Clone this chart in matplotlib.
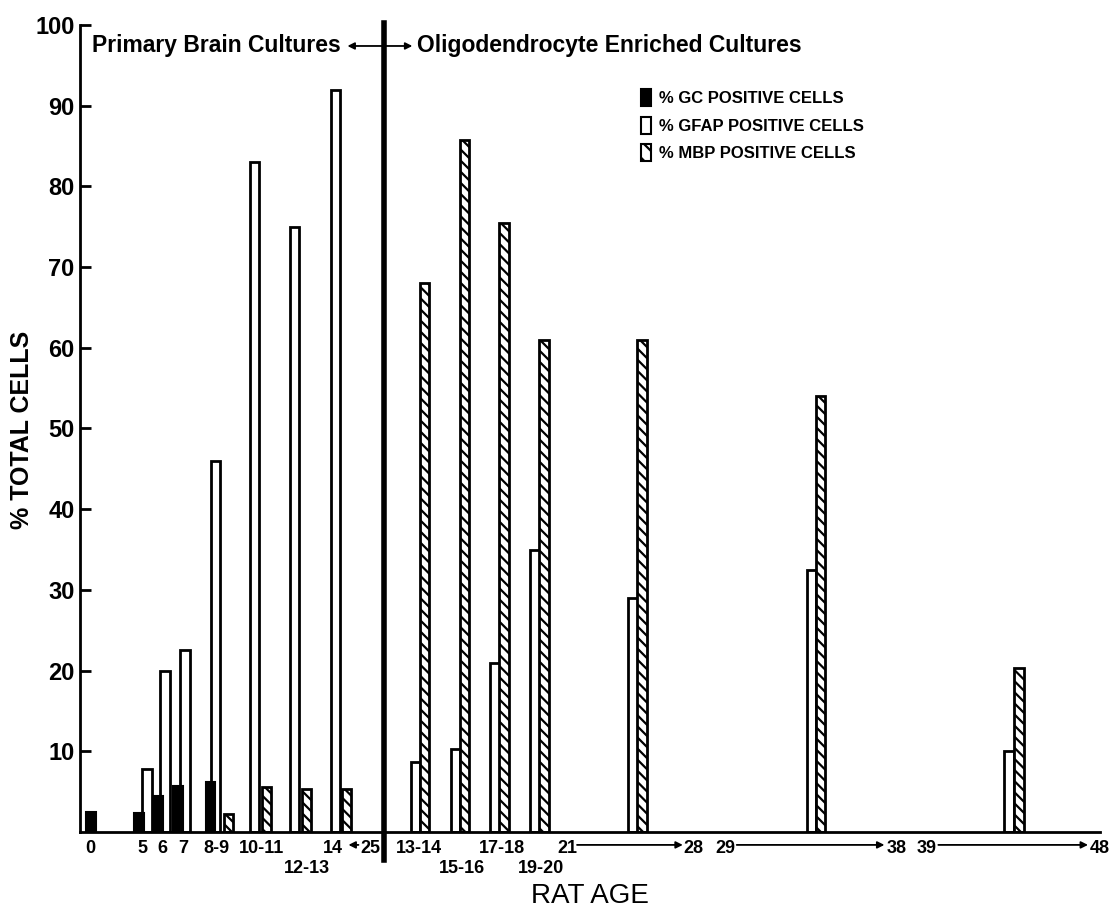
import numpy as np
import matplotlib.pyplot as plt
from matplotlib.patches import Patch

plt.rcParams['font.family'] = ['Liberation Sans', 'DejaVu Sans']
plt.rcParams['hatch.linewidth'] = 1.6

# x axis is not linear in age: groups sit at hand-placed spots along the axis
# (x units run 80..1100 across the axis)
gc_x = [91, 139, 158, 178, 211]
gc_vals = [2.5, 2.3, 4.5, 5.7, 6.2]

gfap_x = [147, 165, 185, 216, 255, 295, 336, 416, 456, 496, 536, 634, 813, 1011]
gfap_vals = [7.8, 20.0, 22.5, 46.0, 83.0, 75.0, 92.0, 8.7, 10.3, 21.0, 35.0, 29.0, 32.5, 10.0]

mbp_x = [229, 267, 307, 347, 425, 465, 505, 545, 643, 822, 1021]
mbp_vals = [2.2, 5.6, 5.3, 5.3, 68.0, 85.7, 75.5, 61.0, 61.0, 54.0, 20.3]

# tick labels, first and second row
row1_x = [90, 143, 163, 183, 217, 262, 333, 371, 420, 503, 568, 695, 727, 898, 928, 1102]
row1_labels = ['0', '5', '6', '7', '8-9', '10-11', '14', '25', '13-14', '17-18',
               '21', '28', '29', '38', '39', '48']
row2_x = [307, 463, 542]
row2_labels = ['12-13', '15-16', '19-20']

# arrows under the axis (from, to)
arrows = [(359, 349), (578, 684), (738, 886), (940, 1090)]

fig = plt.figure(figsize=(11.11, 9.19), dpi=100)
ax = fig.add_axes([80/1111, 1-832/919, 1020/1111, 807/919])

bw = 9.5
ax.bar(gc_x, gc_vals, width=bw, color='black', edgecolor='black', linewidth=1.5, zorder=3)
ax.bar(gfap_x, gfap_vals, width=bw, color='white', edgecolor='black', linewidth=2, zorder=2)
ax.bar(mbp_x, mbp_vals, width=bw, color='white', edgecolor='black', linewidth=2,
       hatch='\\\\\\', zorder=2)

ax.set_xlim(80, 1100)
ax.set_ylim(0, 100)

for s in ['top', 'right']:
    ax.spines[s].set_visible(False)
ax.spines['left'].set_linewidth(2)
ax.spines['bottom'].set_linewidth(2)

ax.set_yticks(np.arange(10, 101, 10))
ax.tick_params(axis='y', direction='in', length=8, width=2, labelsize=17, pad=4)
for t in ax.get_yticklabels():
    t.set_fontweight('bold')

ax.set_xticks(row1_x, row1_labels)
ax.set_xticks(row2_x, row2_labels, minor=True)
ax.tick_params(axis='x', which='major', length=0, labelsize=13, pad=6)
ax.tick_params(axis='x', which='minor', length=0, labelsize=13, pad=20)
for t in ax.get_xticklabels() + ax.get_xticklabels(minor=True):
    t.set_fontweight('bold')

for x0, x1 in arrows:
    ax.annotate('', xy=(x1, -1.6), xytext=(x0, -1.6), xycoords='data',
                arrowprops=dict(arrowstyle='-|>', color='black', lw=1.3,
                                mutation_scale=10, shrinkA=0, shrinkB=0),
                annotation_clip=False)

# divider between the two culture types
ax.plot([385, 385], [-3.5, 100.3], color='black', lw=4, clip_on=False, zorder=4)

ax.text(92, 97.5, 'Primary Brain Cultures', fontsize=16.5, fontweight='bold', va='center')
ax.text(418, 97.5, 'Oligodendrocyte Enriched Cultures', fontsize=16.5, fontweight='bold',
        va='center', ha='left')
ax.annotate('', xy=(348, 97.4), xytext=(385, 97.4),
            arrowprops=dict(arrowstyle='-|>', color='black', lw=1.3, mutation_scale=10,
                            shrinkA=0, shrinkB=0))
ax.annotate('', xy=(413, 97.4), xytext=(385, 97.4),
            arrowprops=dict(arrowstyle='-|>', color='black', lw=1.3, mutation_scale=10,
                            shrinkA=0, shrinkB=0))

handles = [Patch(facecolor='black', edgecolor='black', linewidth=1.5),
           Patch(facecolor='white', edgecolor='black', linewidth=1.5),
           Patch(facecolor='white', edgecolor='black', linewidth=1.5, hatch='\\\\')]
labels = ['% GC POSITIVE CELLS', '% GFAP POSITIVE CELLS', '% MBP POSITIVE CELLS']
leg = ax.legend(handles, labels, loc='upper left', bbox_to_anchor=(626/1111, 1-74/919),
                bbox_transform=fig.transFigure, frameon=False, handlelength=0.6,
                handleheight=1.2, handletextpad=0.5, labelspacing=0.62,
                prop={'size': 12, 'weight': 'bold'})

fig.text(22/1111, 1-430/919, '% TOTAL CELLS', fontsize=18, fontweight='bold',
         rotation=90, ha='center', va='center')
fig.text(590/1111, 1-896/919, 'RAT AGE', fontsize=20, ha='center', va='center')

fig.savefig('out.png', dpi=100)
